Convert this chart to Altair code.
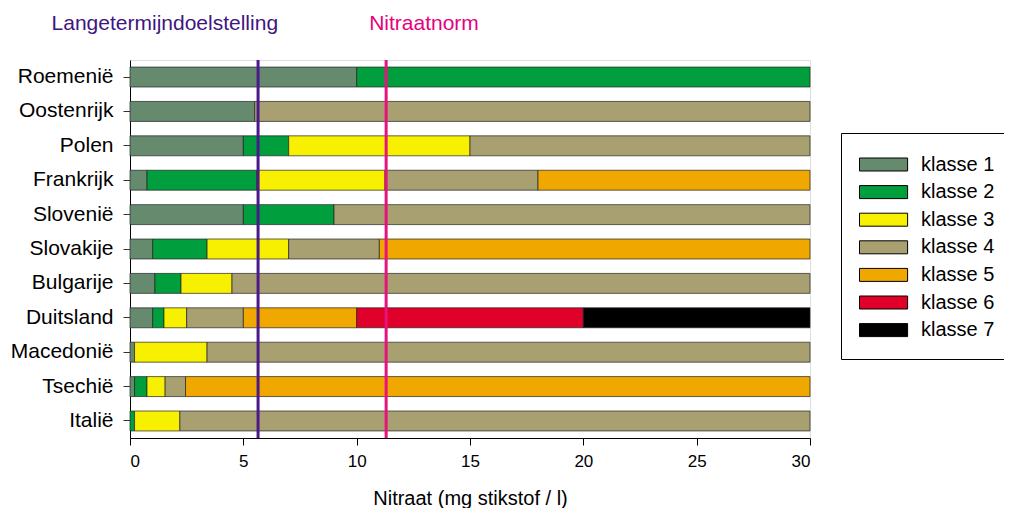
import altair as alt
import pandas as pd

landen = ["Roemenië", "Oostenrijk", "Polen", "Frankrijk", "Slovenië", "Slovakije",
          "Bulgarije", "Duitsland", "Macedonië", "Tsechië", "Italië"]
klassen = ["klasse 1", "klasse 2", "klasse 3", "klasse 4", "klasse 5", "klasse 6", "klasse 7"]
kleuren = ["#668a6e", "#009e3c", "#f7f000", "#a8a070", "#f0a800", "#e0002a", "#000000"]

# segment widths (mg N / l) per class, in the order of `landen`
k1 = [10, 5.5, 5, 0.75, 5, 1, 1.1, 1, 0.2, 0.2, 0]
k2 = [20, 0, 2, 4.85, 4, 2.4, 1.15, 0.5, 0, 0.55, 0.2]
k3 = [0, 0, 8, 5.65, 0, 3.6, 2.25, 1, 3.2, 0.8, 2.0]
k4 = [0, 24.5, 15, 6.75, 21, 4, 25.5, 2.5, 26.6, 0.9, 27.8]
k5 = [0, 0, 0, 12, 0, 19, 0, 5, 0, 27.55, 0]
k6 = [0, 0, 0, 0, 0, 0, 0, 10, 0, 0, 0]
k7 = [0, 0, 0, 0, 0, 0, 0, 10, 0, 0, 0]

langetermijn = 5.65
nitraatnorm = 11.3
x_ticks = [0, 5, 10, 15, 20, 25, 30]

rows = []
series = [k1, k2, k3, k4, k5, k6, k7]
for i, land in enumerate(landen):
    start = 0.0
    for klasse, vals in zip(klassen, series):
        w = vals[i]
        if w > 0:
            rows.append({"land": land, "klasse": klasse, "start": start, "end": start + w})
        start += w
df = pd.DataFrame(rows)

FONT = "Liberation Sans"

bars = alt.Chart(df).mark_bar(stroke="#222222", strokeWidth=0.7).encode(
    y=alt.Y("land:N", sort=landen,
            scale=alt.Scale(paddingInner=0.42, paddingOuter=0.205),
            axis=alt.Axis(title=None, labelFontSize=21, labelColor="black",
                          tickSize=7, tickColor="#333", labelPadding=10,
                          domainColor="black", labelFont=FONT)),
    x=alt.X("start:Q",
            scale=alt.Scale(domain=[0, 30], nice=False),
            axis=alt.Axis(title="Nitraat (mg stikstof / l)", values=x_ticks,
                          labelFontSize=17, titleFontSize=20, titleFontWeight="normal",
                          titlePadding=19, tickSize=7, labelPadding=8,
                          grid=False, domainColor="black", tickColor="black",
                          labelColor="black", titleColor="black", labelFont=FONT, titleFont=FONT)),
    x2="end:Q",
    color=alt.Color("klasse:N",
                    scale=alt.Scale(domain=klassen, range=kleuren),
                    legend=alt.Legend(title=None, orient="none", legendX=711, legendY=73,
                                      strokeColor="black", padding=18,
                                      symbolType="M-1,-0.5H2.7V0.5H-1Z",
                                      symbolSize=676, symbolStrokeColor="black",
                                      symbolStrokeWidth=1, labelFontSize=20,
                                      labelOffset=35, rowPadding=3.6, labelFont=FONT,
                                      labelColor="black")),
)

rule_lt = alt.Chart(pd.DataFrame({"x": [langetermijn]})).mark_rule(
    color="#4a1a8a", strokeWidth=3).encode(x="x:Q")
rule_nn = alt.Chart(pd.DataFrame({"x": [nitraatnorm]})).mark_rule(
    color="#e8127c", strokeWidth=3).encode(x="x:Q")

text_lt = alt.Chart(pd.DataFrame({"x": [langetermijn], "t": ["Langetermijndoelstelling"]})).mark_text(
    align="right", baseline="middle", dx=20, fontSize=21, font=FONT, color="#3f1580").encode(
    x="x:Q", y=alt.value(-36), text="t:N")
text_nn = alt.Chart(pd.DataFrame({"x": [nitraatnorm], "t": ["Nitraatnorm"]})).mark_text(
    align="left", baseline="middle", dx=-17, fontSize=21, font=FONT, color="#e5007d").encode(
    x="x:Q", y=alt.value(-36), text="t:N")

chart = alt.layer(bars, rule_lt, rule_nn, text_lt, text_nn).properties(
    width=680, height=378,
    padding={"left": 122, "top": 52, "right": 194, "bottom": 70},
    autosize="none",
).configure_view(stroke="#555555", strokeWidth=1).configure(font=FONT)

chart.save("out.html", embed_options={"renderer": "svg", "actions": False})
